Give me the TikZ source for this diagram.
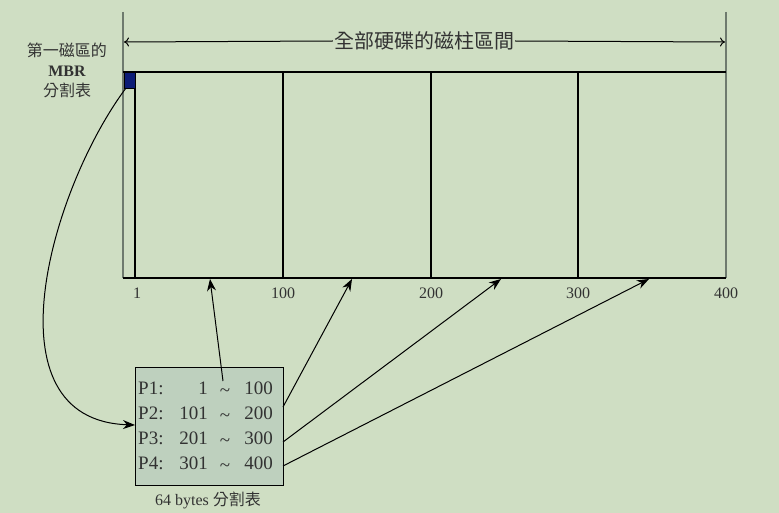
\documentclass[tikz,border=0pt]{standalone}
\usepackage{fontspec}
\setmainfont{Liberation Serif}
\newfontfamily\cjk{Noto Sans CJK TC}
\usetikzlibrary{arrows.meta}
\definecolor{bgc}{RGB}{207,222,195}
\definecolor{tblc}{RGB}{190,208,190}
\definecolor{edgec}{RGB}{110,122,110}
\definecolor{txtc}{RGB}{50,50,50}
\definecolor{mbrc}{RGB}{12,28,118}
\tikzset{
  outer/.style={draw=edgec,line width=2pt},
  inner/.style={draw=black,line width=1.2pt},
  ptr/.style={draw=black,line width=1pt,-{Stealth[length=12pt,width=9pt]}},
  numlab/.style={font=\fontsize{16}{16}\selectfont,text=txtc,inner sep=0pt},
  rowtxt/.style={font=\fontsize{19}{19}\selectfont,text=txtc,inner sep=0pt},
  cjklab/.style={font=\cjk\fontsize{16}{16}\selectfont,text=txtc,inner sep=0pt},
}
\begin{document}
\begin{tikzpicture}[x=1pt,y=-1pt]
\fill[bgc] (0,0) rectangle (779,513);
\useasboundingbox (0,0) rectangle (779,513);
% outer span lines
\coordinate (ltop) at (123,12);
\coordinate (lbot) at (123,278);
\coordinate (rtop) at (726,12);
\coordinate (rbot) at (726,278);
\draw[outer] (ltop) -- (lbot);
\draw[outer] (rtop) -- (rbot);
% span arrow
\coordinate (sl) at (124,42);
\coordinate (sr) at (725,42);
\node[font=\cjk\fontsize{20}{20}\selectfont,text=txtc,fill=bgc,inner xsep=1pt,inner ysep=0pt] (title) at (424,41) {全部硬碟的磁柱區間};
\draw[black,line width=1pt,-{To[length=5pt,width=9pt]}] (title.west) -- (sl);
\draw[black,line width=1pt,-{To[length=5pt,width=9pt]}] (title.east) -- (sr);
% disk rectangle
\draw[inner] (123,72) -- (726,72);
\draw[inner] (123,278) -- (726,278);
\draw[inner] (135,72) -- (135,278);
\draw[inner] (283,72) -- (283,278);
\draw[inner] (431,72) -- (431,278);
\draw[inner] (578,72) -- (578,278);
\node[fill=mbrc,draw=black,line width=0.6pt,minimum width=11pt,minimum height=16pt,inner sep=0pt,anchor=north west] (mbr) at (124,72) {};
% labels
\node[numlab] (n1) at (137,293) {1};
\node[numlab] (n100) at (283,293) {100};
\node[numlab] (n200) at (431,293) {200};
\node[numlab] (n300) at (578,293) {300};
\node[numlab] (n400) at (726,293) {400};
\node[cjklab] (l1) at (67,50) {第一磁區的};
\node[font=\bfseries\fontsize{16}{16}\selectfont,text=txtc,inner sep=0pt] (l2) at (67,71) {MBR};
\node[cjklab] (l3) at (67,90) {分割表};
% table
\node[draw=black,line width=1.2pt,fill=tblc,minimum width=148pt,minimum height=118pt,inner sep=0pt,anchor=north west] (tbl) at (135,367) {};
\node[rowtxt,anchor=west] (p1) at (138,388) {P1:};
\node[rowtxt,anchor=west] (p2) at (138,413) {P2:};
\node[rowtxt,anchor=west] (p3) at (138,438) {P3:};
\node[rowtxt,anchor=west] (p4) at (138,463) {P4:};
\node[rowtxt,anchor=east] (a1) at (208,388) {1};
\node[rowtxt,anchor=east] (a2) at (208,413) {101};
\node[rowtxt,anchor=east] (a3) at (208,438) {201};
\node[rowtxt,anchor=east] (a4) at (208,463) {301};
\node[rowtxt] (t1) at (225,393) {\textasciitilde};
\node[rowtxt] (t2) at (225,418) {\textasciitilde};
\node[rowtxt] (t3) at (225,443) {\textasciitilde};
\node[rowtxt] (t4) at (225,468) {\textasciitilde};
\node[rowtxt,anchor=east] (b1) at (273,388) {100};
\node[rowtxt,anchor=east] (b2) at (273,413) {200};
\node[rowtxt,anchor=east] (b3) at (273,438) {300};
\node[rowtxt,anchor=east] (b4) at (273,463) {400};
\node[font=\fontsize{16}{16}\selectfont,text=txtc,inner sep=0pt] (cap) at (208,500) {64 bytes {\cjk 分割表}};
% pointer targets
\coordinate (tg1) at (210,279);
\coordinate (tg2) at (352,279);
\coordinate (tg3) at (501,279);
\coordinate (tg4) at (649,279);
\coordinate (s1) at (223,381);
\coordinate (s2) at (283,407);
\coordinate (s3) at (283,442);
\coordinate (s4) at (283,466);
\coordinate (tin) at (135,425);
\coordinate (ms) at (126,88);
\draw[ptr] (ms) .. controls (50,190) and (-15,420) .. (tin);
\draw[ptr] (s1) -- (tg1);
\draw[ptr] (s2) -- (tg2);
\draw[ptr] (s3) -- (tg3);
\draw[ptr] (s4) -- (tg4);
\end{tikzpicture}
\end{document}
